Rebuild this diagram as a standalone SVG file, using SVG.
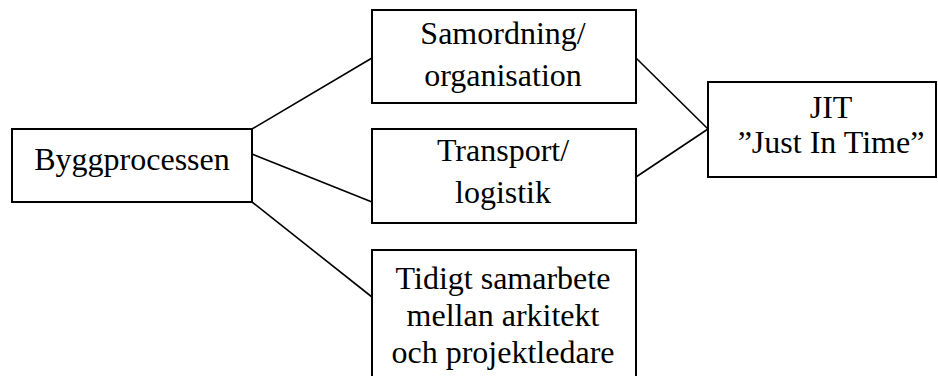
<svg xmlns="http://www.w3.org/2000/svg" width="938" height="376" viewBox="0 0 938 376">
<style>
.box{fill:#fff;stroke:#000;stroke-width:2}
.t{font-family:"Liberation Serif","Times New Roman",serif;font-size:32px;fill:#000;text-anchor:middle}
.c{stroke:#000;stroke-width:1.6;fill:none}
</style>
<rect width="938" height="376" fill="#fff"/>
<g id="connectors">
<line class="c" x1="252" y1="129" x2="372" y2="58"/>
<line class="c" x1="252" y1="154" x2="372" y2="202"/>
<line class="c" x1="252" y1="202" x2="372" y2="297"/>
<line class="c" x1="636" y1="58" x2="708" y2="129"/>
<line class="c" x1="636" y1="177" x2="708" y2="129"/>
</g>
<g id="byggprocessen">
<rect class="box" x="12" y="129" width="240" height="73"/>
<text class="t" x="132" y="170">Byggprocessen</text>
</g>
<g id="samordning">
<rect class="box" x="372" y="10" width="264" height="93"/>
<text class="t" x="503" y="44">Samordning/</text>
<text class="t" x="503" y="86">organisation</text>
</g>
<g id="transport">
<rect class="box" x="372" y="129" width="264" height="94"/>
<text class="t" x="503" y="161">Transport/</text>
<text class="t" x="503" y="203">logistik</text>
</g>
<g id="tidigt">
<rect class="box" x="372" y="250" width="264" height="140"/>
<text class="t" x="503" y="289">Tidigt samarbete</text>
<text class="t" x="503" y="326">mellan arkitekt</text>
<text class="t" x="503" y="363">och projektledare</text>
</g>
<g id="jit">
<rect class="box" x="708" y="82" width="228" height="95"/>
<text class="t" x="831" y="118">JIT</text>
<text class="t" x="831" y="153">”Just In Time”</text>
</g>
</svg>
